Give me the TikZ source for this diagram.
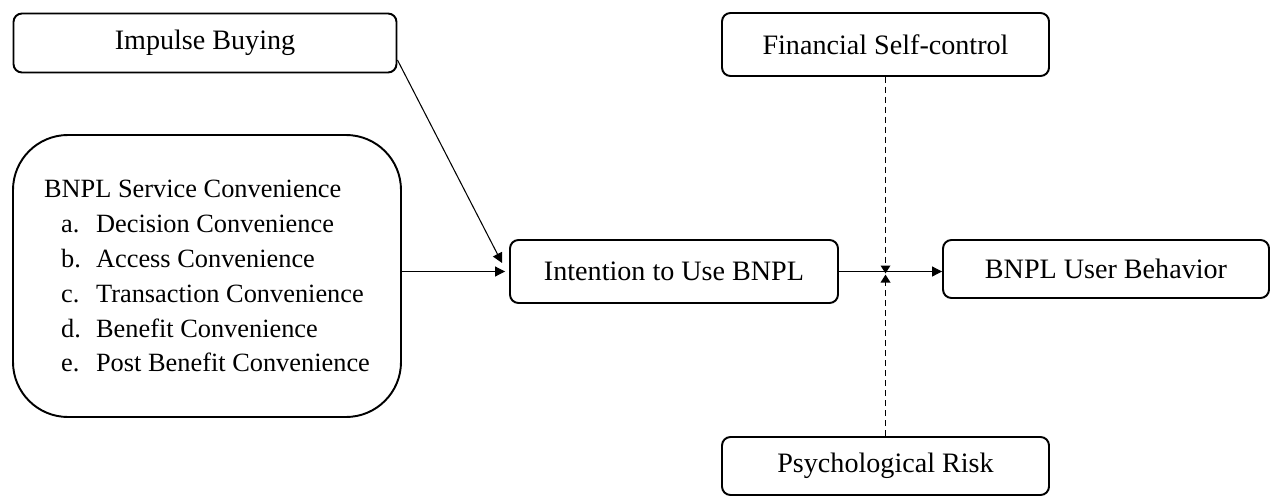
\documentclass[tikz,border=0pt]{standalone}
\usepackage{fontspec}
\setmainfont{Liberation Serif}
\usetikzlibrary{arrows.meta}
\usetikzlibrary{calc}
\tikzset{
  varbox/.style={draw, line width=1.1pt, rounded corners=0.17cm, minimum width=6.54cm,
    minimum height=1.2cm, inner sep=0pt, font=\fontsize{16}{19.9}\selectfont},
  link/.style={line width=0.6pt, -{Triangle[length=2mm,width=2mm]}},
  modlink/.style={line width=1pt, dash pattern=on 0.12cm off 0.08cm, -{Triangle[length=1.6mm,width=1.9mm]}}
}
\newcommand{\itm}[2]{\hspace*{0.34cm}\makebox[0.7cm][l]{#1}#2}

\begin{document}
\begin{tikzpicture}
    \useasboundingbox (0,0) rectangle (25.44,-9.9);
    \node [varbox, minimum width=7.66cm, minimum height=1.18cm] (imp) at (4.10,-0.86) {Impulse Buying};
    \node [varbox, minimum width=7.76cm, minimum height=5.64cm, rounded corners=1.1cm, align=left,
      font=\fontsize{15}{19.9}\selectfont] (conv) at (4.14,-5.52)
      {BNPL Service Convenience\\ \itm{a.}{Decision Convenience}\\ \itm{b.}{Access Convenience}\\
       \itm{c.}{Transaction Convenience}\\ \itm{d.}{Benefit Convenience}\\ \itm{e.}{Post Benefit Convenience}};
    \node [varbox, minimum width=6.56cm, minimum height=1.26cm] (intent) at (13.48,-5.43) {Intention to Use BNPL};
    \node [varbox, minimum width=6.52cm, minimum height=1.16cm] (beh) at (22.12,-5.38) {BNPL User Behavior};
    \node [varbox, minimum height=1.26cm] (fsc) at (17.71,-0.89) {Financial Self-control};
    \node [varbox, minimum height=1.16cm] (risk) at (17.71,-9.32) {Psychological Risk};
    % paths into intention
    \draw [link] ([yshift=-0.34cm]imp.east) -- ([xshift=-0.14cm,yshift=0.17cm]intent.west);
    \draw [link, shorten >=0.08cm] (conv.east |- intent.west) -- (intent.west);
    \draw [link] (intent.east) -- (beh.west |- intent.east);
    % moderators
    \coordinate (mod) at (fsc.south |- intent.east);
    \draw [modlink] (fsc.south) -- ([yshift=-0.04cm]mod);
    \draw [modlink] (risk.north) -- ([yshift=-0.06cm]mod);
\end{tikzpicture}
\end{document}
